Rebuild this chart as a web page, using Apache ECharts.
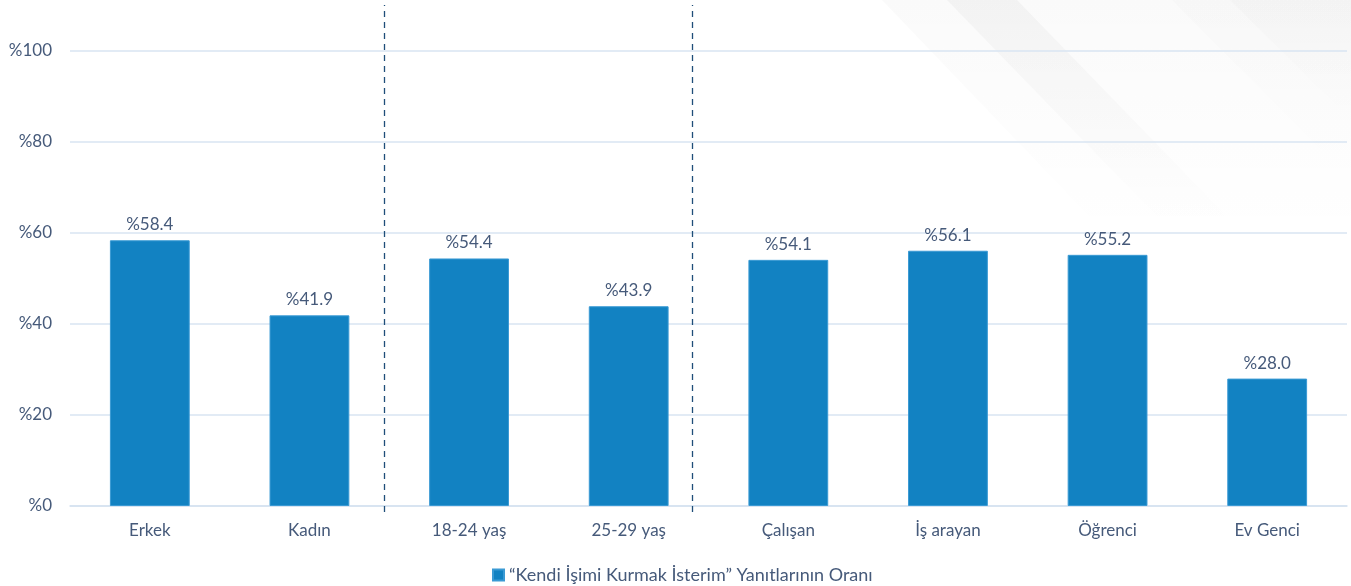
<!DOCTYPE html>
<html><head><meta charset="utf-8">
<script src="https://cdn.jsdelivr.net/npm/echarts@6/dist/echarts.min.js"></script>
<style>html,body{margin:0;padding:0;background:#fff}#c{width:1351px;height:586px}</style>
</head><body><div id="c"></div>
<script>
const categories = ["Erkek","Kadın","18-24 yaş","25-29 yaş","Çalışan","İş arayan","Öğrenci","Ev Genci"];
const values = [58.4, 41.9, 54.4, 43.9, 54.1, 56.1, 55.2, 28.0];
const seriesName = "“Kendi İşimi Kurmak İsterim” Yanıtlarının Oranı";
const yTicks = [0, 20, 40, 60, 80, 100];
const dividerPositions = [1.967, 3.897]; // in category-index units

const txt = '#465A7A';
const font = 'Lato';
function fade(a) {
  return new echarts.graphic.LinearGradient(0, 0, 0, 1, [
    {offset: 0, color: 'rgba(0,0,0,' + a + ')'},
    {offset: 1, color: 'rgba(0,0,0,0)'}
  ]);
}
const chart = echarts.init(document.getElementById('c'), null, {renderer:'canvas'});
chart.setOption({
  backgroundColor: '#fff',
  textStyle: {fontFamily: font},
  animation: false,
  graphic: [
    {type:'polygon', z:-10, silent:true, shape:{points:[[882,0],[1351,0],[1351,240],[1112,240]]}, style:{fill:fade(0.018)}},
    {type:'polygon', z:-10, silent:true, shape:{points:[[947,0],[1017,0],[1240,230],[1170,230]]}, style:{fill:fade(0.03)}},
    {type:'polygon', z:-10, silent:true, shape:{points:[[1172,0],[1351,0],[1351,180]]}, style:{fill:fade(0.012)}},
    {type:'polygon', z:-10, silent:true, shape:{points:[[1230,0],[1351,0],[1351,120]]}, style:{fill:fade(0.015)}}
  ],
  grid: [
    {left:70, right:4, top:51, bottom:80},
    {left:70, right:4, top:5, bottom:74}
  ],
  legend: {
    left: 487, top: 561, itemWidth: 11, itemHeight: 11, itemGap: 6,
    icon: 'rect',
    textStyle: {color: txt, fontSize: 18, fontFamily: font},
    data: [seriesName]
  },
  xAxis: [
    {type:'category', data: categories, gridIndex:0,
     axisLine:{lineStyle:{color:'#D5E2F0', width:1.5}}, axisTick:{show:false},
     axisLabel:{color: txt, fontSize:17, margin:16, fontFamily: font}},
    {type:'value', gridIndex:1, min:0, max:categories.length, show:false}
  ],
  yAxis: [
    {type:'value', gridIndex:0, min:0, max:100, interval:20,
     axisLine:{show:false}, axisTick:{show:false},
     splitLine:{lineStyle:{color:'#D9E5F2', width:1.5}},
     axisLabel:{color: txt, fontSize:17, margin:18, fontFamily: font, formatter: v => '%' + v}},
    {type:'value', gridIndex:1, min:0, max:1, show:false}
  ],
  series: [
    {name: seriesName, type:'bar', xAxisIndex:0, yAxisIndex:0, data: values, barWidth:'50%',
     itemStyle:{color:'#1282C2', borderColor:'#3A9AD4', borderWidth:1},
     label:{show:true, position:'top', distance:7, color: txt, fontSize:17, fontFamily: font,
            formatter: p => '%' + p.value.toFixed(1)}},
    {type:'line', xAxisIndex:1, yAxisIndex:1, data:[], symbol:'none', silent:true,
     markLine:{silent:true, symbol:'none', label:{show:false},
       lineStyle:{color:'#1F4E79', type:[6,5], width:1.3},
       data: dividerPositions.map(x => ({xAxis:x}))}}
  ]
});
</script></body></html>
